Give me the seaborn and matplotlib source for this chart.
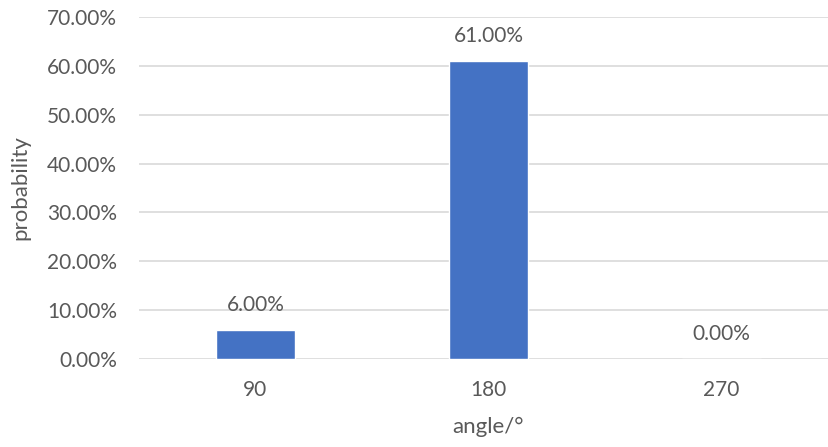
import matplotlib
matplotlib.use('Agg')
import matplotlib.pyplot as plt
import seaborn as sns
import pandas as pd
from matplotlib.ticker import PercentFormatter, MultipleLocator

# chart values
angles = ['90', '180', '270']
probability = [0.06, 0.61, 0.00]
value_labels = ['6.00%', '61.00%', '0.00%']

TEXT = '#595959'
GRID = '#d9d9d9'
BAR = '#4472C4'

sns.set_theme(style='white')
plt.rcParams['font.family'] = ['Lato', 'DejaVu Sans']

df = pd.DataFrame({'angle': angles, 'probability': probability})

fig = plt.figure(figsize=(8.29, 4.47), dpi=100)
ax = fig.add_axes([139 / 829, 88 / 447, 699 / 829, 342 / 447])

sns.barplot(data=df, x='angle', y='probability', order=angles,
            color=BAR, saturation=1, width=0.335, ax=ax, zorder=3)

ax.set_ylim(0, 0.70)
ax.yaxis.set_major_locator(MultipleLocator(0.10))
ax.yaxis.set_major_formatter(PercentFormatter(1.0, decimals=2))
ax.grid(axis='y', color=GRID, linewidth=1.2, zorder=0)
ax.set_axisbelow(True)
for s in ax.spines.values():
    s.set_visible(False)

ax.tick_params(axis='y', length=0, pad=16, labelsize=15, labelcolor=TEXT)
ax.tick_params(axis='x', length=0, pad=15, labelsize=15, labelcolor=TEXT)

ax.set_xlabel('angle/°', fontsize=16, color=TEXT, labelpad=12)
ax.set_ylabel('probability', fontsize=16, color=TEXT, labelpad=12)

for i, (v, lab) in enumerate(zip(probability, value_labels)):
    ax.annotate(lab, (i, v), xytext=(0, 18), textcoords='offset points',
                ha='center', va='center', fontsize=15, color=TEXT)

fig.savefig('out.png', dpi=100)
